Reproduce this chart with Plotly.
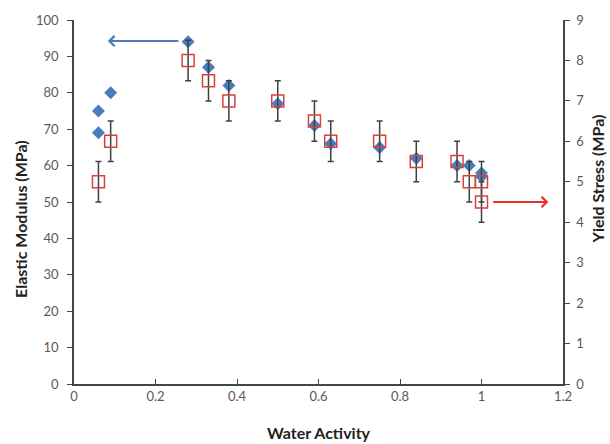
import plotly.graph_objects as go

# Elastic modulus (left axis, blue diamonds)
em_x = [0.06, 0.06, 0.09, 0.28, 0.33, 0.38, 0.50, 0.59, 0.63, 0.75, 0.84, 0.94, 0.97, 1.00, 1.00]
em_y = [75, 69, 80, 94, 87, 82, 77, 71, 66, 65, 62, 60, 60, 58, 57]

# Yield stress (right axis, red open squares with error bars)
ys_x = [0.06, 0.09, 0.28, 0.33, 0.38, 0.50, 0.59, 0.63, 0.75, 0.84, 0.94, 0.97, 1.00, 1.00]
ys_y = [5.0, 6.0, 8.0, 7.5, 7.0, 7.0, 6.5, 6.0, 6.0, 5.5, 5.5, 5.0, 5.0, 4.5]
ys_err = [0.5] * len(ys_x)

x_ticks = [0, 0.2, 0.4, 0.6, 0.8, 1, 1.2]
x_ticklabels = ["0", "0.2", "0.4", "0.6", "0.8", "1", "1.2"]

FONT = "Lato"
AXCOL = "#3d4848"
TICKCOL = "#595959"

fig = go.Figure()
fig.add_trace(go.Scatter(
    x=em_x, y=em_y, mode="markers", yaxis="y",
    marker=dict(symbol="diamond", size=10, color="#4a7ebb"),
    showlegend=False))
fig.add_trace(go.Scatter(
    x=ys_x, y=ys_y, mode="markers", yaxis="y2",
    marker=dict(symbol="square-open", size=12, color="#d9403a", line=dict(width=1.5)),
    error_y=dict(type="data", array=ys_err, visible=True, color="#404040", thickness=1.5, width=3),
    showlegend=False))

axis_common = dict(showgrid=False, zeroline=False, showline=True, linecolor=AXCOL, linewidth=1.5,
                   tickcolor=AXCOL, ticklen=5, tickwidth=1.2,
                   tickfont=dict(family=FONT, size=13, color=TICKCOL))

fig.update_layout(
    width=610, height=444,
    margin=dict(l=74, r=47, t=16, b=60),
    paper_bgcolor="white", plot_bgcolor="white",
    xaxis=dict(range=[0, 1.2], tickvals=x_ticks, ticktext=x_ticklabels, ticks="inside", **axis_common),
    yaxis=dict(range=[0, 100], dtick=10, ticks="outside", ticklabelstandoff=6, **axis_common),
    yaxis2=dict(range=[0, 9], dtick=1, ticks="outside", overlaying="y", side="right",
                ticklabelstandoff=4, **axis_common),
    annotations=[
        dict(text="<b>Water Activity</b>", xref="paper", yref="paper", x=0.5, y=-0.134,
             xanchor="center", yanchor="middle", showarrow=False,
             font=dict(family=FONT, size=16, color="#222222")),
        dict(text="<b>Elastic Modulus (MPa)</b>", xref="paper", yref="paper", x=-0.108, y=0.454,
             xanchor="center", yanchor="middle", textangle=-90, showarrow=False,
             font=dict(family=FONT, size=16, color="#222222")),
        dict(text="<b>Yield Stress (MPa)</b>", xref="paper", yref="paper", x=1.07, y=0.5625,
             xanchor="center", yanchor="middle", textangle=-90, showarrow=False,
             font=dict(family=FONT, size=16, color="#222222")),
        dict(x=0.083, y=94.2, xref="x", yref="y", ax=0.26, ay=94.2, axref="x", ayref="y",
             showarrow=True, arrowhead=4, arrowsize=1, arrowwidth=2, arrowcolor="#4a7ebb", text=""),
        dict(x=1.164, y=4.5, xref="x", yref="y2", ax=1.025, ay=4.5, axref="x", ayref="y2",
             showarrow=True, arrowhead=4, arrowsize=1, arrowwidth=2, arrowcolor="#e8302a", text=""),
    ],
)

fig.write_html("out.html")
